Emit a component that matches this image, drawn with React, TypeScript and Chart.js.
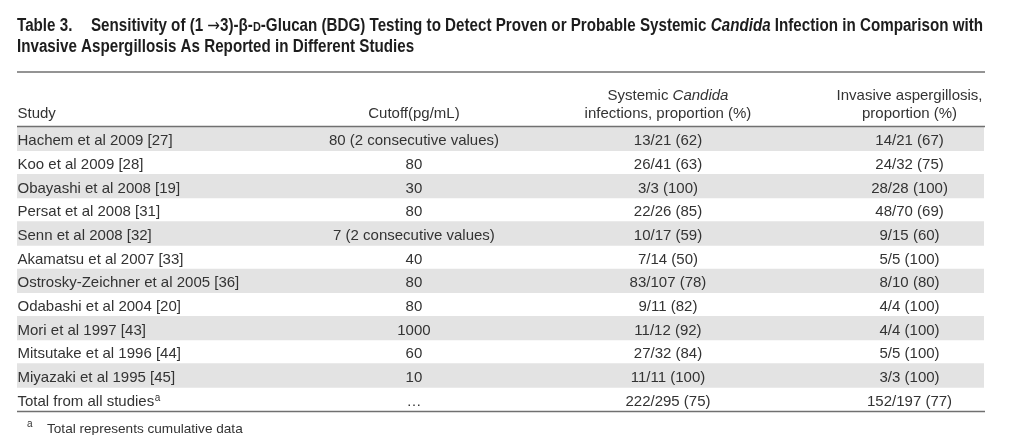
import React, { useEffect, useRef } from "react";
import { Chart, registerables } from "chart.js";

Chart.register(...registerables);

// ---------- data ----------
const studies = [
  "Hachem et al 2009 [27]",
  "Koo et al 2009 [28]",
  "Obayashi et al 2008 [19]",
  "Persat et al 2008 [31]",
  "Senn et al 2008 [32]",
  "Akamatsu et al 2007 [33]",
  "Ostrosky-Zeichner et al 2005 [36]",
  "Odabashi et al 2004 [20]",
  "Mori et al 1997 [43]",
  "Mitsutake et al 1996 [44]",
  "Miyazaki et al 1995 [45]",
  "Total from all studies",
];
const studyNotes = ["", "", "", "", "", "", "", "", "", "", "", "a"];
const cutoffs = [
  "80 (2 consecutive values)",
  "80",
  "30",
  "80",
  "7 (2 consecutive values)",
  "40",
  "80",
  "80",
  "1000",
  "60",
  "10",
  "\u2026",
];
const candida = [
  "13/21 (62)",
  "26/41 (63)",
  "3/3 (100)",
  "22/26 (85)",
  "10/17 (59)",
  "7/14 (50)",
  "83/107 (78)",
  "9/11 (82)",
  "11/12 (92)",
  "27/32 (84)",
  "11/11 (100)",
  "222/295 (75)",
];
const aspergillosis = [
  "14/21 (67)",
  "24/32 (75)",
  "28/28 (100)",
  "48/70 (69)",
  "9/15 (60)",
  "5/5 (100)",
  "8/10 (80)",
  "4/4 (100)",
  "4/4 (100)",
  "5/5 (100)",
  "3/3 (100)",
  "152/197 (77)",
];
const footnoteMark = "a";
const footnoteText = "Total represents cumulative data";
const tableLabel = "Table 3.";

// ---------- styles ----------
const SANS = "'Liberation Sans', Arial, Helvetica, sans-serif";
const BODY = `15px ${SANS}`;
const BODY_IT = `italic 15px ${SANS}`;
const TITLE_SIZE = 17.5;
const TB = `bold ${TITLE_SIZE}px ${SANS}`;
const TBI = `italic bold ${TITLE_SIZE}px ${SANS}`;
const TBS = `bold ${TITLE_SIZE * 0.72}px ${SANS}`;
const TARROW = `${TITLE_SIZE}px 'DejaVu Sans', ${SANS}`;
const TEXT_COLOR = "#333333";
const TITLE_COLOR = "#1d1d1d";
const RULE_COLOR = "#707070";
const BAND_COLOR = "#e3e3e3";

type Run = { t: string; f: string };

const titleLine1: Run[] = [
  { t: "Sensitivity of (1 ", f: TB },
  { t: "\u2192", f: TARROW },
  { t: "3)-\u03B2-", f: TB },
  { t: "D", f: TBS },
  { t: "-Glucan (BDG) Testing to Detect Proven or Probable Systemic ", f: TB },
  { t: "Candida", f: TBI },
  { t: " Infection in Comparison with", f: TB },
];
const titleLine2: Run[] = [
  { t: "Invasive Aspergillosis As Reported in Different Studies", f: TB },
];

// column headers: [line1 runs, line2 runs]
const headers: Run[][][] = [
  [[], [{ t: "Study", f: BODY }]],
  [[], [{ t: "Cutoff(pg/mL)", f: BODY }]],
  [
    [
      { t: "Systemic ", f: BODY },
      { t: "Candida", f: BODY_IT },
    ],
    [{ t: "infections, proportion (%)", f: BODY }],
  ],
  [[{ t: "Invasive aspergillosis,", f: BODY }], [{ t: "proportion (%)", f: BODY }]],
];
// column anchors as fraction of table width, and alignment
const colPos = [0.0005, 0.4105, 0.6732, 0.923];
const colAlign = ["left", "center", "center", "center"];

function runsWidth(ctx: CanvasRenderingContext2D, runs: Run[]) {
  let w = 0;
  for (const r of runs) {
    ctx.font = r.f;
    w += ctx.measureText(r.t).width;
  }
  return w;
}
function drawRuns(ctx: CanvasRenderingContext2D, runs: Run[], x: number, y: number) {
  let cx = x;
  for (const r of runs) {
    ctx.font = r.f;
    ctx.fillText(r.t, cx, y);
    cx += ctx.measureText(r.t).width;
  }
}
function drawRunsAligned(
  ctx: CanvasRenderingContext2D,
  runs: Run[],
  x: number,
  y: number,
  align: string
) {
  const w = runsWidth(ctx, runs);
  const sx = align === "center" ? x - w / 2 : x;
  drawRuns(ctx, runs, sx, y);
}

const tablePlugin = {
  id: "tableText",
  afterDatasetsDraw(chart: any) {
    const { ctx, chartArea, scales } = chart;
    const xs = scales.x;
    const ys = scales.y;
    const left = chartArea.left;
    const right = chartArea.right;
    ctx.save();
    ctx.textAlign = "left";
    ctx.textBaseline = "alphabetic";

    // title
    ctx.fillStyle = TITLE_COLOR;
    const wB = runsWidth(ctx, titleLine1);
    const startB = 91;
    const endB = 983;
    const sx = (endB - startB) / wB;
    ctx.save();
    ctx.translate(left, 30.5);
    ctx.scale(sx, 1);
    drawRuns(ctx, [{ t: tableLabel, f: TB }], 0, 0);
    ctx.restore();
    ctx.save();
    ctx.translate(startB, 30.5);
    ctx.scale(sx, 1);
    drawRuns(ctx, titleLine1, 0, 0);
    ctx.restore();
    ctx.save();
    ctx.translate(left, 52);
    ctx.scale(sx, 1);
    drawRuns(ctx, titleLine2, 0, 0);
    ctx.restore();

    // rules
    ctx.strokeStyle = RULE_COLOR;
    ctx.lineWidth = 1.5;
    const rule = (y: number) => {
      ctx.beginPath();
      ctx.moveTo(left, y);
      ctx.lineTo(right + 1, y);
      ctx.stroke();
    };
    rule(72);
    rule(chartArea.top - 0.5);
    rule(chartArea.bottom + 0.5);

    // headers
    ctx.fillStyle = TEXT_COLOR;
    headers.forEach((lines, c) => {
      const x = xs.getPixelForValue(colPos[c]);
      lines.forEach((runs, li) => {
        if (!runs.length) return;
        const y = chartArea.top + (li === 0 ? -27 : -9);
        drawRunsAligned(ctx, runs, x, y, colAlign[c]);
      });
    });

    // cells
    const cols = [studies, cutoffs, candida, aspergillosis];
    studies.forEach((_, i) => {
      const y = ys.getPixelForValue(i) + 6.5;
      cols.forEach((col, c) => {
        const x = xs.getPixelForValue(colPos[c]);
        const runs: Run[] = [{ t: col[i], f: BODY }];
        drawRunsAligned(ctx, runs, x, y, colAlign[c]);
        if (c === 0 && studyNotes[i]) {
          ctx.font = BODY;
          const w = ctx.measureText(col[i]).width;
          ctx.font = `10px ${SANS}`;
          ctx.fillText(studyNotes[i], x + w + 0.5, y - 5);
        }
      });
    });

    // footnote
    ctx.font = `10px ${SANS}`;
    ctx.fillText(footnoteMark, 27, 427);
    ctx.font = `13.6px ${SANS}`;
    ctx.fillText(footnoteText, 47, 433);
    ctx.restore();
  },
};

export default function App() {
  const ref = useRef<HTMLCanvasElement | null>(null);
  useEffect(() => {
    if (!ref.current) return;
    const chart = new Chart(ref.current, {
      type: "bar",
      data: {
        labels: studies,
        datasets: [
          {
            data: studies.map(() => [0, 1]) as any,
            backgroundColor: (c: any) => (c.dataIndex % 2 === 0 ? BAND_COLOR : "rgba(0,0,0,0)"),
            borderWidth: 0,
            barPercentage: 1,
            categoryPercentage: 1,
          },
        ],
      },
      options: {
        indexAxis: "y",
        responsive: false,
        animation: false,
        events: [],
        layout: { padding: { left: 17, right: 40, top: 127, bottom: 32 } },
        plugins: { legend: { display: false }, tooltip: { enabled: false }, title: { display: false } },
        scales: {
          x: { type: "linear", min: 0, max: 1, display: false },
          y: { type: "category", display: false, offset: true },
        },
      },
      plugins: [tablePlugin],
    });
    return () => chart.destroy();
  }, []);
  return (
    <canvas
      ref={ref}
      width={1024}
      height={443}
      style={{ display: "block", margin: "-8px", width: 1024, height: 443 }}
    />
  );
}
